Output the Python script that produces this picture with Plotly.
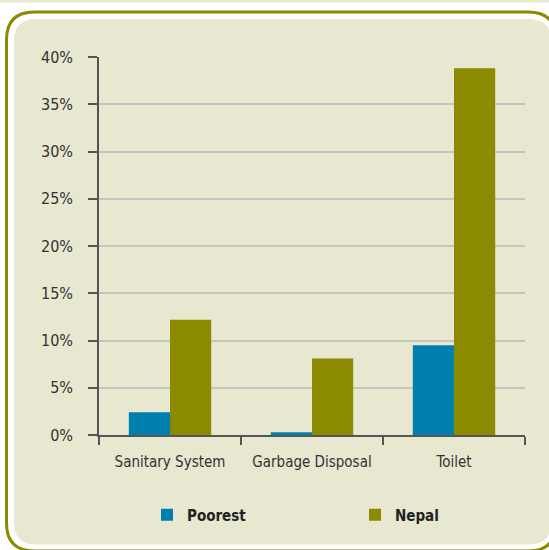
import plotly.graph_objects as go

categories = ["Sanitary System", "Garbage Disposal", "Toilet"]
poorest = [2.4, 0.3, 9.5]
nepal = [12.2, 8.1, 38.8]
series_names = ["Poorest", "Nepal"]
y_ticks = [0, 5, 10, 15, 20, 25, 30, 35, 40]
y_tick_labels = [f"{v}%" for v in y_ticks]

W, H = 549, 550
L, R, T, B = 99, 24, 57, 115
pw, ph = W - L - R, H - T - B

def px(x):
    return (x - L) / pw

def py(y):
    return 1 - (y - T) / ph

def rrect(x0, y0, x1, y1, r):
    a, b, c, d = px(x0), py(y0), px(x1), py(y1)
    rx, ry = r / pw, r / ph
    return (f"M {a+rx},{b} L {c-rx},{b} Q {c},{b} {c},{b-ry} "
            f"L {c},{d+ry} Q {c},{d} {c-rx},{d} L {a+rx},{d} "
            f"Q {a},{d} {a},{d+ry} L {a},{b-ry} Q {a},{b} {a+rx},{b} Z")

font = "DejaVu Sans Condensed, sans-serif"
fig = go.Figure()
fig.add_trace(go.Bar(x=categories, y=poorest, name=series_names[0], marker_color="#0080b1",
                     marker_line_width=0, legend="legend"))
fig.add_trace(go.Bar(x=categories, y=nepal, name=series_names[1], marker_color="#8c8a00",
                     marker_line_width=0, legend="legend2"))

shapes = [
    dict(type="rect", xref="paper", yref="paper", x0=px(0), x1=px(W), y0=py(0), y1=py(2.5),
         fillcolor="#e8e7cf", line_width=0, layer="below"),
    dict(type="path", xref="paper", yref="paper", path=rrect(6.5, 12, 556, 551, 28),
         fillcolor="#ffffff", line=dict(color="#8c8a00", width=3), layer="below"),
    dict(type="path", xref="paper", yref="paper", path=rrect(14, 19, 551, 544.5, 22),
         fillcolor="#e8e7cf", line_width=0, layer="below"),
]

leg = dict(orientation="h", yanchor="middle", xanchor="left", itemwidth=30,
           font=dict(size=15, color="#222222", weight="bold"), bgcolor="rgba(0,0,0,0)")

fig.update_layout(
    width=W, height=H,
    margin=dict(l=L, r=R, t=T, b=B),
    paper_bgcolor="#ffffff",
    plot_bgcolor="rgba(0,0,0,0)",
    shapes=shapes,
    barmode="group",
    bargap=0.42,
    bargroupgap=0,
    font=dict(family=font, color="#333333", size=15),
    showlegend=True,
    legend=dict(leg, x=px(147), y=py(515)),
    legend2=dict(leg, x=px(355), y=py(515)),
    xaxis=dict(showline=True, linecolor="#555555", linewidth=1.5, ticks="outside",
               tickson="boundaries", ticklen=8, tickwidth=1.5, tickcolor="#555555",
               showgrid=False, ticklabelstandoff=12, tickfont=dict(size=15, color="#333333")),
    yaxis=dict(range=[0, 40], tickvals=y_ticks, ticktext=y_tick_labels, showline=True,
               linecolor="#555555", linewidth=1.5, ticks="outside", ticklen=9, tickwidth=1.5,
               tickcolor="#555555", gridcolor="#c4c4c0", gridwidth=1.5, zeroline=False,
               ticklabelstandoff=12, tickfont=dict(size=16, color="#333333")),
)

fig.write_html("out.html", config={"displayModeBar": False},
               post_script="document.body.style.margin='0';")
